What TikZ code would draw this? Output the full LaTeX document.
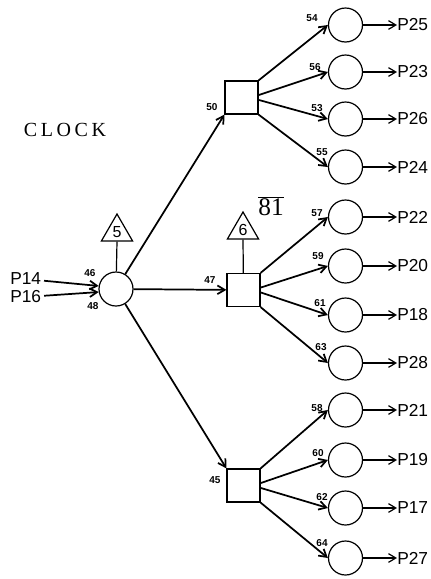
\documentclass[tikz,border=0pt]{standalone}
\usepackage{fontspec}
\setmainfont{Liberation Sans}
\newfontfamily\clockfont[LetterSpace=18]{Liberation Serif}
\newfontfamily\plainserif{Liberation Serif}
\usetikzlibrary{shapes.geometric,arrows.meta}

\begin{document}
\begin{tikzpicture}[x=0.75pt,y=-0.75pt,
  >={Straight Barb[length=5.5pt,width=6.5pt]},
  gate/.style={circle,draw,line width=0.9pt,minimum size=25.5pt,inner sep=0pt},
  box/.style={rectangle,draw,line width=0.9pt,minimum size=24.75pt,inner sep=0pt},
  tri/.style={regular polygon,regular polygon sides=3,draw,line width=0.9pt,minimum size=27pt,inner sep=0pt,font=\fontsize{12}{12}\selectfont},
  pin/.style={inner sep=0pt,font=\fontsize{13}{13}\selectfont},
  num/.style={inner sep=0pt,font=\fontsize{7.5}{7.5}\selectfont\bfseries},
  wire/.style={line width=1.3pt},
  lead/.style={line width=0.9pt}]
\useasboundingbox (0,0) rectangle (431,579);

\node (clk) at (65,129.5) {\fontsize{15}{15}\clockfont CLOCK};
\node (sheet) at (271,206) {\fontsize{19}{19}\plainserif$\overline{\mbox{81}}$};

% input side
\node[gate] (c0) at (116,289) {};
\node[tri] (t5) at (117,232) {5};
\draw[lead] (t5.south) -- (c0);
\node[pin,anchor=west] (i14) at (10,279) {P14};
\node[pin,anchor=west] (i16) at (10,297) {P16};
\draw[wire,arrows=->,shorten <=2pt] (i14) -- (c0.170);
\draw[wire,arrows=->,shorten <=2pt] (i16) -- (c0.190);
\node[num] at (90,273) {46};
\node[num] at (93,306) {48};

% second stage
\node[box] (sA) at (241.5,97.5) {};
\node[box] (sB) at (243.5,290) {};
\node[box] (sC) at (243.5,485.5) {};
\node[tri] (t6) at (243,230) {6};
\draw[lead] (t6.south) -- (sB);
\draw[wire,arrows=->] (c0) -- (sA.south west);
\draw[wire,arrows=->] (c0) -- (sB);
\draw[wire,arrows=->] (c0) -- (sC.north west);
\node[num] at (212,107) {50};
\node[num] at (210,280) {47};
\node[num] at (215,480) {45};

% top group
\node[gate] (o25) at (345.5,25) {};
\node[gate] (o23) at (345.5,72) {};
\node[gate] (o26) at (345.5,119) {};
\node[gate] (o24) at (345.5,167) {};
\draw[wire,arrows=->] (sA.north east) -- (o25.west);
\draw[wire,arrows=->] (sA.8) -- (o23.west);
\draw[wire,arrows=->] (sA.-8) -- (o26.west);
\draw[wire,arrows=->] (sA.south east) -- (o24.west);
\node[num] at (312,18) {54};
\node[num] at (315,67) {56};
\node[num] at (317,108) {53};
\node[num] at (322,152) {55};
\node[pin,anchor=west] (p25) at (397,25) {P25};
\node[pin,anchor=west] (p23) at (397,72) {P23};
\node[pin,anchor=west] (p26) at (397,119) {P26};
\node[pin,anchor=west] (p24) at (397,167) {P24};
\draw[lead,arrows=->] (o25) -- (p25);
\draw[lead,arrows=->] (o23) -- (p23);
\draw[lead,arrows=->] (o26) -- (p26);
\draw[lead,arrows=->] (o24) -- (p24);

% middle group
\node[gate] (o22) at (345.5,217) {};
\node[gate] (o20) at (345.5,266) {};
\node[gate] (o18) at (345.5,315) {};
\node[gate] (o28) at (345.5,363) {};
\draw[wire,arrows=->] (sB.north east) -- (o22.west);
\draw[wire,arrows=->] (sB.8) -- (o20.west);
\draw[wire,arrows=->] (sB.-8) -- (o18.west);
\draw[wire,arrows=->] (sB.south east) -- (o28.west);
\node[num] at (317,213) {57};
\node[num] at (318,256) {59};
\node[num] at (320,303) {61};
\node[num] at (321,347) {63};
\node[pin,anchor=west] (p22) at (397,217) {P22};
\node[pin,anchor=west] (p20) at (397,266) {P20};
\node[pin,anchor=west] (p18) at (397,315) {P18};
\node[pin,anchor=west] (p28) at (397,363) {P28};
\draw[lead,arrows=->] (o22) -- (p22);
\draw[lead,arrows=->] (o20) -- (p20);
\draw[lead,arrows=->] (o18) -- (p18);
\draw[lead,arrows=->] (o28) -- (p28);

% bottom group
\node[gate] (o21) at (345.5,410) {};
\node[gate] (o19) at (345.5,460) {};
\node[gate] (o17) at (345.5,508) {};
\node[gate] (o27) at (345.5,558) {};
\draw[wire,arrows=->] (sC.north east) -- (o21.west);
\draw[wire,arrows=->] (sC.8) -- (o19.west);
\draw[wire,arrows=->] (sC.-8) -- (o17.west);
\draw[wire,arrows=->] (sC.south east) -- (o27.west);
\node[num] at (317,408) {58};
\node[num] at (318,453) {60};
\node[num] at (322,497) {62};
\node[num] at (322,543) {64};
\node[pin,anchor=west] (p21) at (397,410) {P21};
\node[pin,anchor=west] (p19) at (397,460) {P19};
\node[pin,anchor=west] (p17) at (397,508) {P17};
\node[pin,anchor=west] (p27) at (397,558) {P27};
\draw[lead,arrows=->] (o21) -- (p21);
\draw[lead,arrows=->] (o19) -- (p19);
\draw[lead,arrows=->] (o17) -- (p17);
\draw[lead,arrows=->] (o27) -- (p27);
\end{tikzpicture}
\end{document}
